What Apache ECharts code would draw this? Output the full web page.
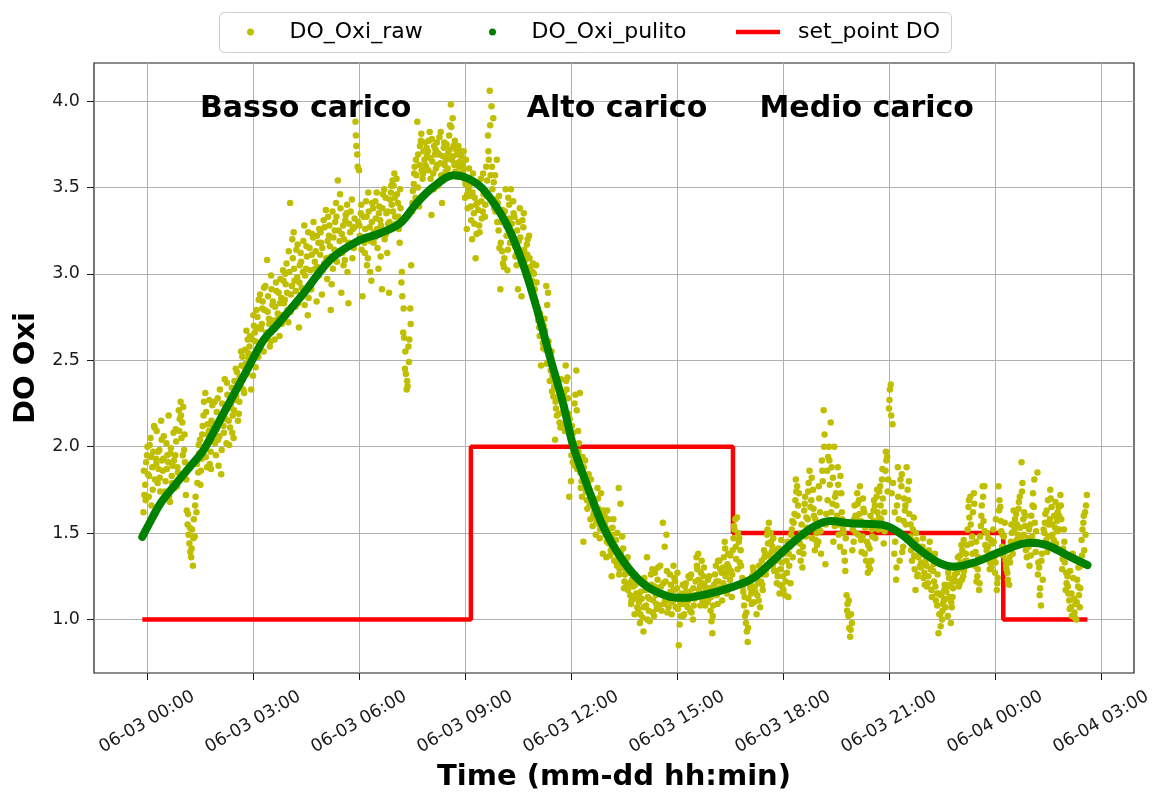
<!DOCTYPE html>
<html>
<head>
<meta charset="utf-8">
<title>DO Oxi</title>
<script src="https://cdn.jsdelivr.net/npm/echarts@6/dist/echarts.min.js"></script>
<style>
  html, body { margin: 0; padding: 0; background: #ffffff; }
  #chart { width: 1152px; height: 792px; }
</style>
</head>
<body>
<div id="chart"></div>
<script>
// ---- data ----------------------------------------------------------------
// Raw dissolved-oxygen readings: three interleaved sample sets, each one value every 3 minutes.
const rawStepMin = 3;
const rawStartA = '2019-06-02 23:54:00';
const rawValuesA = [
  1.62, 1.78, 1.95, 1.71, 2.05, 1.88, 2.12, 1.93, 1.79, 1.98, 2.15, 1.86, 1.74, 2.02, 1.91, 1.68, 1.83, 2.08, 1.95, 1.77,
  2.21, 2.26, 2.14, 1.98, 1.72, 1.55, 1.44, 1.36, 1.31, 1.48, 1.62, 1.85, 2.04, 1.93, 2.18, 2.31, 1.88, 2.09, 1.97, 2.24,
  2.12, 1.95, 2.28, 2.06, 1.84, 2.18, 2.39, 2.02, 2.22, 2.11, 2.34, 2.05, 2.27, 2.43, 2.19, 2.36, 2.52, 2.31, 2.48, 2.62,
  2.58, 2.33, 2.41, 2.66, 2.79, 2.52, 2.88, 2.71, 2.55, 2.93, 3.08, 2.74, 2.61, 2.82, 2.68, 2.95, 2.77, 2.64, 2.86, 3.02,
  2.85, 3.06, 2.72, 3.41, 2.93, 3.24, 2.81, 2.98, 2.69, 3.12, 2.87, 3.28, 3.03, 2.76, 3.15, 2.91, 3.21, 3.07, 2.84, 3.18,
  3.11, 2.88, 3.31, 3.05, 2.97, 3.22, 2.79, 3.36, 3.14, 3.41, 3.54, 3.19, 2.89, 3.28, 3.08, 3.35, 2.83, 3.24, 3.43, 3.15,
  3.88, 3.69, 3.60, 3.35, 2.87, 3.18, 3.42, 3.09, 3.27, 2.96, 3.38, 3.21, 3.47, 3.03, 3.31, 2.91, 3.25, 3.44, 3.12, 2.89,
  3.47, 3.54, 3.58, 3.29, 3.41, 3.18, 2.95, 2.66, 2.45, 2.33, 2.58, 2.80, 3.36, 3.52, 3.44, 3.88, 3.39, 3.77, 3.55, 3.66,
  3.62, 3.71, 3.82, 3.34, 3.58, 3.69, 3.76, 3.51, 3.64, 3.41, 3.73, 3.59, 3.67, 3.80, 3.98, 3.90, 3.63, 3.72, 3.56, 3.65,
  3.68, 3.60, 3.44, 3.26, 3.49, 3.52, 3.20, 3.35, 3.09, 3.41, 3.28, 3.55, 3.36, 3.47, 3.62, 3.80, 4.06, 3.97, 3.90, 3.57,
  3.66, 3.25, 2.91, 3.13, 3.04, 3.49, 3.02, 3.40, 3.49, 3.21, 3.33, 3.11, 2.91, 3.38, 2.87, 3.27, 3.08, 3.17, 2.98, 3.04,
  2.96, 3.00, 2.84, 2.80, 2.69, 2.47, 2.60, 2.74, 2.93, 2.89, 2.38, 2.55, 2.29, 2.04, 2.18, 2.35, 2.11, 2.27, 2.31, 2.47,
  2.40, 1.71, 1.80, 1.91, 2.25, 2.44, 2.09, 2.31, 1.80, 1.45, 1.92, 1.69, 1.84, 1.58, 1.66, 1.62, 1.49, 1.76, 1.55, 1.73,
  1.38, 1.60, 1.36, 1.52, 1.47, 1.25, 1.58, 1.42, 1.31, 1.76, 1.67, 1.48, 1.18, 1.29, 1.36, 1.21, 1.09, 1.24, 1.03, 1.15,
  1.06, 0.98, 1.12, 0.93, 1.21, 1.36, 1.05, 1.17, 1.29, 1.02, 1.14, 1.23, 1.08, 1.19, 1.56, 1.42, 1.49, 1.11, 1.26, 1.03,
  1.31, 1.22, 1.18, 0.85, 1.09, 1.14, 1.03, 1.21, 1.07, 1.16, 1.26, 1.00, 1.12, 1.36, 1.38, 1.19, 1.34, 1.25, 1.08, 1.15,
  1.12, 1.05, 0.92, 1.20, 1.31, 1.09, 1.34, 1.17, 1.30, 1.45, 1.27, 1.38, 1.23, 1.13, 1.47, 1.58, 1.59, 1.45, 1.40, 1.24,
  1.08, 0.98, 0.87, 1.23, 1.15, 1.30, 1.19, 1.03, 1.21, 1.07, 1.34, 1.26, 1.38, 1.49, 1.56, 1.50, 1.42, 1.28, 1.34, 1.25,
  1.15, 1.46, 1.25, 1.14, 1.34, 1.13, 1.42, 1.52, 1.56, 1.69, 1.77, 1.73, 1.34, 1.30, 1.63, 1.48, 1.58, 1.86, 1.69, 1.75,
  1.40, 1.50, 1.45, 1.62, 1.92, 2.21, 1.32, 1.86, 2.00, 2.14, 1.67, 2.00, 1.73, 1.88, 1.55, 1.73, 1.52, 1.34, 1.14, 1.02,
  0.90, 0.98, 1.45, 1.60, 1.73, 1.69, 1.57, 1.48, 1.62, 1.34, 1.27, 1.41, 1.34, 1.57, 1.66, 1.71, 1.52, 1.77, 1.81, 1.44,
  1.86, 1.94, 2.22, 2.36, 2.13, 1.38, 1.23, 1.88, 1.34, 1.77, 1.42, 1.63, 1.88, 1.69, 1.48, 1.34, 1.59, 1.17, 1.25, 1.42,
  1.30, 1.42, 1.27, 1.35, 1.21, 1.45, 1.17, 1.28, 1.38, 1.15, 0.92, 1.03, 1.00, 1.11, 1.07, 1.19, 1.24, 0.98, 1.13, 1.23,
  1.30, 1.36, 1.21, 1.43, 1.25, 1.31, 1.34, 1.65, 1.71, 1.48, 1.73, 1.39, 1.25, 1.17, 1.54, 1.77, 1.77, 1.35, 1.42, 1.29,
  1.30, 1.52, 1.27, 1.17, 1.77, 1.65, 1.42, 1.48, 1.34, 1.27, 1.20, 1.45, 1.38, 1.52, 1.61, 1.49, 1.71, 1.91, 1.58, 1.54,
  1.36, 1.42, 1.55, 1.48, 1.65, 1.39, 1.85, 1.30, 1.08, 1.23, 1.50, 1.46, 1.69, 1.58, 1.65, 1.41, 1.53, 1.57, 1.65, 1.72,
  1.29, 1.52, 1.17, 1.25, 1.11, 1.07, 1.38, 1.04, 1.00, 1.19, 1.07, 1.46, 1.56, 1.62, 1.72
];
const rawStartB = '2019-06-02 23:55:30';
const rawValuesB = [
  1.72, 1.91, 1.84, 2.01, 1.66, 1.97, 1.81, 2.09, 1.87, 1.74, 1.92, 2.06, 1.80, 1.95, 1.71, 1.99, 1.89, 1.76, 2.03, 1.85,
  2.16, 2.05, 2.23, 1.91, 1.63, 1.49, 1.39, 1.52, 1.58, 1.71, 1.79, 1.96, 1.86, 2.12, 1.99, 2.20, 2.07, 1.90, 2.15, 2.03,
  2.02, 2.20, 1.89, 2.14, 2.25, 2.08, 2.16, 2.30, 2.01, 2.24, 2.18, 2.38, 2.29, 2.15, 2.40, 2.47, 2.33, 2.56, 2.42, 2.51,
  2.49, 2.62, 2.70, 2.46, 2.75, 2.60, 2.68, 2.84, 2.79, 2.66, 2.87, 2.58, 2.91, 2.73, 2.81, 2.70, 2.89, 2.97, 2.76, 2.83,
  2.94, 2.79, 3.01, 2.88, 3.09, 2.96, 3.14, 2.83, 3.05, 2.92, 3.19, 2.99, 3.10, 2.86, 3.02, 3.23, 2.97, 3.13, 3.04, 3.26,
  3.18, 3.02, 3.27, 3.09, 3.33, 3.16, 2.94, 3.21, 3.30, 3.07, 3.25, 3.38, 3.12, 3.20, 3.34, 3.01, 3.29, 3.17, 3.26, 3.32,
  3.74, 3.30, 3.22, 3.14, 3.33, 3.26, 3.05, 3.36, 3.19, 3.41, 3.24, 3.32, 3.15, 3.39, 3.28, 3.46, 3.20, 3.35, 3.29, 3.43,
  3.40, 3.51, 3.33, 3.46, 3.26, 3.38, 2.87, 2.63, 2.42, 2.35, 2.62, 3.05, 3.48, 3.62, 3.57, 3.69, 3.74, 3.60, 3.71, 3.63,
  3.68, 3.77, 3.55, 3.65, 3.74, 3.61, 3.70, 3.79, 3.57, 3.68, 3.63, 3.75, 3.70, 3.86, 3.66, 3.74, 3.59, 3.69, 3.62, 3.71,
  3.63, 3.55, 3.66, 3.38, 3.45, 3.31, 3.58, 3.44, 3.23, 3.37, 3.50, 3.32, 3.46, 3.40, 3.54, 3.66, 3.57, 3.49, 3.38, 3.43,
  3.41, 3.15, 3.30, 3.06, 3.36, 3.22, 3.44, 3.18, 3.29, 3.35, 3.10, 3.25, 3.19, 3.06, 3.31, 3.14, 2.99, 3.20, 3.09, 2.95,
  3.06, 2.91, 2.95, 2.73, 2.77, 2.64, 2.70, 2.56, 2.82, 2.49, 2.44, 2.41, 2.35, 2.22, 2.28, 2.14, 2.39, 2.20, 2.09, 2.33,
  2.19, 2.06, 2.12, 1.98, 2.30, 1.87, 2.02, 1.76, 1.94, 1.83, 1.74, 1.79, 1.66, 1.72, 1.60, 1.69, 1.57, 1.64, 1.52, 1.61,
  1.56, 1.49, 1.63, 1.44, 1.40, 1.53, 1.34, 1.46, 1.38, 1.29, 1.33, 1.41, 1.26, 1.19, 1.30, 1.14, 1.23, 1.12, 1.20, 1.07,
  1.10, 1.16, 1.01, 1.24, 1.08, 1.13, 0.99, 1.20, 1.11, 1.27, 1.06, 1.18, 1.31, 1.15, 1.09, 1.22, 1.04, 1.13, 1.20, 1.10,
  1.24, 1.12, 1.06, 0.97, 1.15, 1.02, 1.19, 1.10, 1.25, 1.05, 1.13, 1.08, 1.22, 1.29, 1.17, 1.27, 1.11, 1.20, 1.14, 1.23,
  1.18, 0.99, 1.08, 1.26, 1.14, 1.22, 1.29, 1.11, 1.36, 1.25, 1.32, 1.19, 1.28, 1.40, 1.52, 1.35, 1.50, 1.33, 1.21, 1.16,
  1.02, 0.93, 1.12, 1.18, 1.25, 1.10, 1.27, 1.14, 1.31, 1.22, 1.17, 1.36, 1.29, 1.44, 1.33, 1.39, 1.47, 1.35, 1.21, 1.41,
  1.29, 1.19, 1.38, 1.22, 1.45, 1.31, 1.49, 1.36, 1.61, 1.74, 1.66, 1.44, 1.55, 1.38, 1.71, 1.53, 1.79, 1.65, 1.47, 1.60,
  1.46, 1.55, 1.70, 1.38, 1.80, 2.07, 1.61, 1.94, 1.78, 1.88, 1.45, 1.71, 1.60, 1.49, 1.83, 1.58, 1.39, 1.47, 1.09, 0.95,
  1.03, 1.52, 1.66, 1.58, 1.49, 1.77, 1.39, 1.64, 1.53, 1.45, 1.31, 1.60, 1.48, 1.69, 1.55, 1.62, 1.74, 1.58, 1.70, 1.51,
  1.92, 1.81, 2.33, 1.73, 1.52, 1.45, 1.66, 1.58, 1.81, 1.39, 1.70, 1.55, 1.75, 1.61, 1.40, 1.52, 1.29, 1.46, 1.36, 1.31,
  1.38, 1.24, 1.33, 1.19, 1.40, 1.29, 1.36, 1.22, 1.11, 1.26, 1.03, 1.14, 1.09, 1.20, 1.16, 1.27, 1.13, 1.07, 1.22, 1.31,
  1.27, 1.19, 1.33, 1.40, 1.28, 1.38, 1.52, 1.59, 1.44, 1.62, 1.31, 1.22, 1.36, 1.48, 1.66, 1.57, 1.43, 1.50, 1.37, 1.46,
  1.44, 1.36, 1.58, 1.24, 1.69, 1.51, 1.37, 1.56, 1.29, 1.41, 1.33, 1.50, 1.63, 1.44, 1.55, 1.68, 1.47, 1.79, 1.62, 1.40,
  1.47, 1.31, 1.60, 1.73, 1.56, 1.45, 1.33, 1.18, 1.38, 1.52, 1.61, 1.39, 1.55, 1.70, 1.49, 1.60, 1.44, 1.62, 1.52, 1.58,
  1.41, 1.33, 1.21, 1.15, 1.28, 1.02, 1.12, 1.09, 1.23, 1.14, 1.31, 1.52, 1.40, 1.66
];
const rawStartC = '2019-06-02 23:54:45';
const rawValuesC = [
  1.86, 1.69, 2.00, 1.83, 1.94, 1.75, 2.11, 1.90, 1.97, 1.82, 2.04, 1.93, 1.70, 1.87, 2.18, 1.96, 1.79, 1.92, 2.10, 1.88,
  2.09, 2.18, 1.95, 2.07, 1.81, 1.61, 1.53, 1.41, 1.47, 1.66, 1.90, 2.01, 1.78, 2.07, 2.26, 1.94, 2.13, 2.27, 1.87, 2.11,
  2.26, 2.10, 2.04, 2.33, 1.98, 2.12, 2.23, 2.37, 2.15, 2.29, 2.08, 2.21, 2.45, 2.34, 2.26, 2.55, 2.39, 2.46, 2.67, 2.54,
  2.64, 2.53, 2.76, 2.61, 2.69, 2.85, 2.57, 2.80, 2.92, 2.63, 2.78, 2.71, 2.99, 2.84, 2.62, 2.90, 2.74, 2.83, 2.71, 2.96,
  3.00, 2.89, 3.13, 2.78, 3.20, 3.03, 2.90, 3.17, 2.95, 3.07, 3.01, 2.82, 3.16, 3.24, 2.94, 3.11, 3.30, 3.03, 3.22, 2.99,
  3.24, 3.15, 3.06, 3.37, 3.19, 3.28, 3.10, 3.03, 3.25, 3.33, 3.13, 3.46, 3.23, 3.05, 3.31, 3.40, 3.18, 3.36, 3.09, 3.27,
  3.80, 3.62, 3.28, 3.40, 3.21, 3.12, 3.33, 3.47, 3.01, 3.30, 3.18, 3.42, 3.26, 3.35, 3.10, 3.38, 3.49, 3.23, 3.36, 3.30,
  3.51, 3.36, 3.44, 3.55, 3.33, 3.49, 3.01, 2.80, 2.55, 2.38, 2.49, 2.71, 3.41, 3.58, 3.66, 3.50, 3.63, 3.81, 3.58, 3.76,
  3.73, 3.60, 3.67, 3.78, 3.49, 3.72, 3.63, 3.69, 3.82, 3.54, 3.76, 3.66, 3.61, 3.72, 3.85, 3.68, 3.77, 3.64, 3.74, 3.58,
  3.57, 3.71, 3.52, 3.46, 3.61, 3.39, 3.47, 3.29, 3.40, 3.53, 3.24, 3.42, 3.58, 3.33, 3.45, 3.71, 3.86, 3.62, 3.53, 3.36,
  3.30, 3.45, 3.18, 3.37, 3.09, 3.28, 3.14, 3.32, 3.23, 3.42, 3.16, 3.05, 3.30, 3.21, 3.12, 3.35, 3.02, 3.11, 3.22, 2.92,
  3.01, 2.86, 3.05, 2.76, 2.64, 2.72, 2.57, 2.67, 2.48, 2.61, 2.52, 2.32, 2.45, 2.26, 2.37, 2.19, 2.31, 2.13, 2.24, 2.38,
  2.28, 2.16, 1.95, 2.08, 1.89, 2.21, 1.97, 1.85, 1.71, 1.88, 1.77, 1.64, 1.75, 1.81, 1.54, 1.68, 1.61, 1.70, 1.47, 1.58,
  1.63, 1.55, 1.45, 1.58, 1.37, 1.49, 1.41, 1.34, 1.50, 1.26, 1.39, 1.32, 1.22, 1.35, 1.17, 1.27, 1.11, 1.19, 1.26, 1.13,
  1.14, 1.03, 1.21, 1.07, 1.17, 1.00, 1.12, 1.26, 1.04, 1.19, 1.09, 1.30, 1.15, 1.05, 1.21, 1.11, 1.28, 1.07, 1.16, 1.13,
  1.17, 1.07, 1.27, 1.13, 1.02, 1.20, 1.09, 1.16, 1.11, 1.24, 1.04, 1.18, 1.14, 1.31, 1.23, 1.08, 1.21, 1.30, 1.17, 1.10,
  1.25, 1.13, 1.02, 1.16, 1.22, 1.34, 1.18, 1.27, 1.21, 1.41, 1.15, 1.30, 1.37, 1.26, 1.54, 1.42, 1.29, 1.47, 1.31, 1.19,
  1.13, 1.04, 0.95, 1.20, 1.09, 1.28, 1.16, 1.24, 1.11, 1.30, 1.20, 1.40, 1.26, 1.52, 1.37, 1.45, 1.31, 1.40, 1.28, 1.36,
  1.20, 1.33, 1.17, 1.41, 1.27, 1.38, 1.21, 1.57, 1.47, 1.81, 1.60, 1.39, 1.50, 1.42, 1.67, 1.59, 1.74, 1.53, 1.82, 1.64,
  1.58, 1.43, 1.77, 1.51, 1.86, 2.00, 1.55, 1.69, 1.92, 1.62, 1.82, 1.54, 1.66, 1.78, 1.42, 1.62, 1.50, 1.28, 1.05, 1.11,
  0.94, 1.40, 1.58, 1.50, 1.67, 1.61, 1.46, 1.70, 1.38, 1.55, 1.43, 1.29, 1.52, 1.63, 1.47, 1.75, 1.59, 1.66, 1.87, 1.62,
  1.97, 1.74, 2.27, 2.18, 1.79, 1.62, 1.30, 1.71, 1.50, 1.84, 1.57, 1.66, 1.46, 1.80, 1.55, 1.43, 1.37, 1.50, 1.26, 1.37,
  1.33, 1.47, 1.20, 1.31, 1.25, 1.38, 1.13, 1.32, 1.19, 1.08, 1.15, 0.96, 1.05, 1.17, 1.12, 1.02, 1.20, 1.10, 1.18, 1.26,
  1.22, 1.29, 1.37, 1.23, 1.46, 1.34, 1.43, 1.69, 1.55, 1.38, 1.67, 1.45, 1.29, 1.21, 1.60, 1.71, 1.51, 1.40, 1.47, 1.33,
  1.38, 1.45, 1.33, 1.21, 1.63, 1.57, 1.49, 1.39, 1.31, 1.23, 1.36, 1.55, 1.42, 1.58, 1.46, 1.64, 1.53, 1.74, 1.49, 1.60,
  1.42, 1.52, 1.37, 1.66, 1.81, 1.51, 1.26, 1.14, 1.34, 1.44, 1.56, 1.63, 1.48, 1.75, 1.55, 1.46, 1.68, 1.51, 1.60, 1.66,
  1.35, 1.45, 1.27, 1.19, 1.06, 1.15, 1.24, 1.01, 1.10, 1.30, 1.18, 1.37, 1.60, 1.49
];

// Cleaned (filtered) signal.
const pulitoTimes = [
  '2019-06-02 23:52', '2019-06-03 00:00', '2019-06-03 00:23', '2019-06-03 00:48', '2019-06-03 01:13',
  '2019-06-03 01:36', '2019-06-03 02:10', '2019-06-03 02:50', '2019-06-03 03:18', '2019-06-03 03:41',
  '2019-06-03 04:26', '2019-06-03 05:11', '2019-06-03 05:56', '2019-06-03 06:36', '2019-06-03 07:10',
  '2019-06-03 07:38', '2019-06-03 08:07', '2019-06-03 08:41', '2019-06-03 09:06', '2019-06-03 09:32',
  '2019-06-03 10:11', '2019-06-03 10:40', '2019-06-03 11:02', '2019-06-03 11:25', '2019-06-03 11:47',
  '2019-06-03 12:04', '2019-06-03 12:27', '2019-06-03 12:55', '2019-06-03 13:29', '2019-06-03 14:04',
  '2019-06-03 14:43', '2019-06-03 15:11', '2019-06-03 15:51', '2019-06-03 16:36', '2019-06-03 17:10',
  '2019-06-03 17:44', '2019-06-03 18:18', '2019-06-03 18:52', '2019-06-03 19:20', '2019-06-03 19:55',
  '2019-06-03 20:51', '2019-06-03 21:19', '2019-06-03 21:53', '2019-06-03 22:27', '2019-06-03 22:50',
  '2019-06-03 23:29', '2019-06-04 00:09', '2019-06-04 00:59', '2019-06-04 01:28', '2019-06-04 02:02',
  '2019-06-04 02:37'
];
const pulitoValues = [
  1.478, 1.53, 1.672, 1.78, 1.884,
  1.98, 2.193, 2.444, 2.617, 2.704,
  2.888, 3.081, 3.186, 3.235, 3.293,
  3.409, 3.505, 3.57, 3.55, 3.485,
  3.285, 3.042, 2.798, 2.510, 2.244,
  2.0, 1.779, 1.535, 1.336, 1.203,
  1.136, 1.125, 1.147, 1.19, 1.24,
  1.343, 1.449, 1.536, 1.57, 1.556,
  1.546, 1.498, 1.401, 1.324, 1.305,
  1.334, 1.391, 1.444, 1.430, 1.372,
  1.314
];

// DO set point (step changes).
const setPointTimes = ['2019-06-02 23:52', '2019-06-03 09:10', '2019-06-03 16:35', '2019-06-04 00:14', '2019-06-04 02:37'];
const setPointValues = [1.0, 2.0, 1.5, 1.0, 1.0];

// Load-phase annotations.
const annotTexts = ['Basso carico', 'Alto carico', 'Medio carico'];
const annotTimes = ['2019-06-03 01:30', '2019-06-03 10:45', '2019-06-03 17:20'];
const annotValues = [3.9, 3.9, 3.9];

// Axes.
const xTicks = [
  '2019-06-03 00:00', '2019-06-03 03:00', '2019-06-03 06:00', '2019-06-03 09:00', '2019-06-03 12:00',
  '2019-06-03 15:00', '2019-06-03 18:00', '2019-06-03 21:00', '2019-06-04 00:00', '2019-06-04 03:00'
];
const yTicks = [1.0, 1.5, 2.0, 2.5, 3.0, 3.5, 4.0];
const xRange = ['2019-06-02 22:30', '2019-06-04 03:56'];
const yRange = [0.69, 4.22];

// ---- helpers ---------------------------------------------------------------
function toTime(s) {
  const [d, t] = s.split(' ');
  const [Y, M, D] = d.split('-').map(Number);
  const [h, m, sec] = t.split(':').map(Number);
  return new Date(Y, M - 1, D, h, m, sec || 0).getTime();
}
function pad(n) { return String(n).padStart(2, '0'); }
function fmtTick(v) {
  const d = new Date(v);
  return pad(d.getMonth() + 1) + '-' + pad(d.getDate()) + ' ' + pad(d.getHours()) + ':' + pad(d.getMinutes());
}
function sampled(start, values) {
  const t0 = toTime(start);
  return values.map((v, i) => [t0 + i * rawStepMin * 60000, v]);
}

const rawData = sampled(rawStartA, rawValuesA)
  .concat(sampled(rawStartB, rawValuesB))
  .concat(sampled(rawStartC, rawValuesC));
const pulitoData = pulitoTimes.map((t, i) => [toTime(t), pulitoValues[i]]);
const setPointData = setPointTimes.map((t, i) => [toTime(t), setPointValues[i]]);
const annotData = annotTimes.map((t, i) => ({ value: [toTime(t), annotValues[i]], name: annotTexts[i] }));

const FONT = 'DejaVu Sans';
const legendText = (gap) => ({ fontFamily: FONT, fontSize: 22, color: '#000', padding: [0, 0, 0, gap] });

// ---- chart -----------------------------------------------------------------
const chart = echarts.init(document.getElementById('chart'), null, { renderer: 'canvas' });
chart.setOption({
  animation: false,
  backgroundColor: '#ffffff',
  textStyle: { fontFamily: FONT },
  grid: {
    left: 94, right: 18, top: 63, bottom: 119,
    show: true, borderColor: '#1a1a1a', borderWidth: 1.2, backgroundColor: '#ffffff',
    containLabel: false, outerBoundsMode: 'none'
  },
  graphic: [{
    type: 'rect', z: 1, silent: true,
    shape: { x: 219.5, y: 12.5, width: 732, height: 40, r: 5 },
    style: { fill: '#ffffff', stroke: '#cccccc', lineWidth: 1 }
  }],
  legend: [
    { data: [{ name: 'DO_Oxi_raw', icon: 'circle' }], left: 247, top: 21, padding: 0,
      itemWidth: 44, itemHeight: 7, itemStyle: { borderWidth: 0 }, textStyle: legendText(12), selectedMode: false },
    { data: [{ name: 'DO_Oxi_pulito', icon: 'circle' }], left: 489, top: 21, padding: 0,
      itemWidth: 44, itemHeight: 7, itemStyle: { borderWidth: 0 }, textStyle: legendText(12), selectedMode: false },
    { data: [{ name: 'set_point DO', icon: 'rect' }], left: 736, top: 21, padding: 0,
      itemWidth: 44, itemHeight: 4.5, itemStyle: { borderWidth: 0 }, textStyle: legendText(13), selectedMode: false }
  ],
  xAxis: {
    type: 'value',
    min: toTime(xRange[0]), max: toTime(xRange[1]),
    name: 'Time (mm-dd hh:min)', nameLocation: 'middle', nameGap: 88,
    nameTextStyle: { fontFamily: FONT, fontSize: 29, fontWeight: 'bold', color: '#000' },
    axisLine: { show: false },
    axisTick: { show: true, length: 7, inside: false, customValues: xTicks.map(toTime),
      lineStyle: { color: '#1a1a1a', width: 1 } },
    axisLabel: { customValues: xTicks.map(toTime), formatter: fmtTick, rotate: 30,
      align: 'center', verticalAlign: 'middle', margin: 49,
      fontFamily: FONT, fontSize: 17.5, color: '#1a1a1a', hideOverlap: false },
    splitLine: { show: true, lineStyle: { color: '#b0b0b0', width: 1 } }
  },
  yAxis: {
    type: 'value',
    min: yRange[0], max: yRange[1],
    name: 'DO Oxi', nameLocation: 'middle', nameGap: 53, nameRotate: 90,
    nameTextStyle: { fontFamily: FONT, fontSize: 29, fontWeight: 'bold', color: '#000' },
    axisLine: { show: false },
    axisTick: { show: true, length: 7, inside: false, customValues: yTicks,
      lineStyle: { color: '#1a1a1a', width: 1 } },
    axisLabel: { customValues: yTicks, formatter: v => Number(v).toFixed(1), margin: 14,
      fontFamily: FONT, fontSize: 17.5, color: '#1a1a1a' },
    splitLine: { show: true, lineStyle: { color: '#b0b0b0', width: 1 } }
  },
  series: [
    {
      name: 'set_point DO', type: 'line', step: 'end', data: setPointData,
      showSymbol: false, symbol: 'none', color: '#ff0000',
      lineStyle: { color: '#ff0000', width: 4.5 }, z: 2
    },
    {
      name: 'DO_Oxi_raw', type: 'scatter', data: rawData,
      symbol: 'circle', symbolSize: 6.5, color: '#bfbf00',
      itemStyle: { color: '#bfbf00', opacity: 1 }, z: 3
    },
    {
      name: 'DO_Oxi_pulito', type: 'line', data: pulitoData, smooth: 0.35,
      showSymbol: false, symbol: 'none', color: '#008000',
      lineStyle: { color: '#008000', width: 8, cap: 'round' }, z: 4
    },
    {
      name: 'annotazioni', type: 'scatter', data: annotData, symbolSize: 0, silent: true, z: 5,
      itemStyle: { opacity: 1 },
      label: {
        show: true, formatter: p => p.name, position: [0, 0], offset: [0, 6],
        align: 'left', verticalAlign: 'bottom', opacity: 1,
        fontFamily: FONT, fontSize: 30, fontWeight: 'bold', color: '#000'
      }
    }
  ]
});
</script>
</body>
</html>
